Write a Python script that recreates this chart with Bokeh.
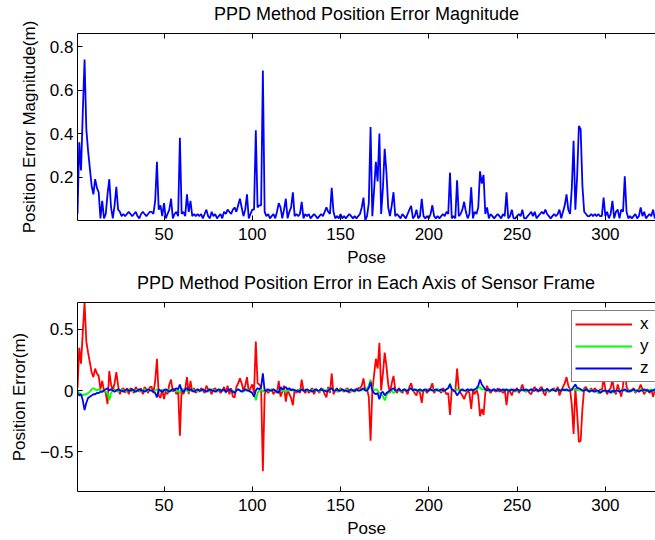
from bokeh.plotting import figure
from bokeh.models import (FixedTicker, LinearAxis, Legend, Range1d)
from bokeh.layouts import column
from bokeh.embed import file_html
from bokeh.resources import INLINE

# ---- data -------------------------------------------------------------
pose = list(range(1, 331))

err_mag = [
    0.03, 0.36, 0.23, 0.50, 0.74, 0.42, 0.32, 0.24, 0.16, 0.12,
    0.19, 0.15, 0.13, 0.01, 0.09, 0.01, 0.03, 0.12, 0.19, 0.06,
    0.01, 0.07, 0.155, 0.05, 0.04, 0.02, 0.03, 0.02, 0.03, 0.04,
    0.03, 0.02, 0.03, 0.04, 0.02, 0.01, 0.03, 0.04, 0.03, 0.02,
    0.03, 0.04, 0.04, 0.03, 0.09, 0.27, 0.05, 0.07, 0.02, 0.08,
    0.01, 0.03, 0.05, 0.10, 0.01, 0.03, 0.04, 0.02, 0.38, 0.03,
    0.04, 0.02, 0.12, 0.04, 0.09, 0.02, 0.03, 0.02, 0.03, 0.02,
    0.03, 0.01, 0.03, 0.05, 0.02, 0.01, 0.04, 0.02, 0.03, 0.01,
    0.02, 0.03, 0.01, 0.04, 0.03, 0.05, 0.04, 0.03, 0.05, 0.06,
    0.04, 0.07, 0.10, 0.06, 0.02, 0.05, 0.12, 0.01, 0.03, 0.05,
    0.05, 0.415, 0.06, 0.07, 0.07, 0.69, 0.04, 0.02, 0.03, 0.01,
    0.02, 0.03, 0.01, 0.04, 0.08, 0.06, 0.01, 0.05, 0.10, 0.01,
    0.04, 0.06, 0.13, 0.02, 0.03, 0.02, 0.03, 0.086, 0.01, 0.03,
    0.02, 0.03, 0.01, 0.02, 0.03, 0.02, 0.01, 0.02, 0.03, 0.02,
    0.04, 0.06, 0.04, 0.03, 0.15, 0.04, 0.01, 0.02, 0.01, 0.03,
    0.01, 0.02, 0.01, 0.02, 0.03, 0.02, 0.01, 0.02, 0.01, 0.02,
    0.03, 0.06, 0.105, 0.00, 0.02, 0.08, 0.43, 0.02, 0.14, 0.27,
    0.18, 0.40, 0.03, 0.15, 0.33, 0.22, 0.06, 0.02, 0.07, 0.13,
    0.02, 0.03, 0.02, 0.01, 0.03, 0.02, 0.01, 0.03, 0.05, 0.067,
    0.01, 0.02, 0.05, 0.01, 0.02, 0.10, 0.02, 0.01, 0.02, 0.01,
    0.03, 0.07, 0.02, 0.01, 0.02, 0.01, 0.02, 0.03, 0.02, 0.04,
    0.03, 0.22, 0.01, 0.02, 0.01, 0.185, 0.02, 0.03, 0.05, 0.086,
    0.04, 0.01, 0.03, 0.153, 0.01, 0.04, 0.03, 0.06, 0.226, 0.17,
    0.21, 0.03, 0.06, 0.01, 0.03, 0.02, 0.01, 0.02, 0.03, 0.02,
    0.01, 0.03, 0.02, 0.13, 0.01, 0.02, 0.05, 0.01, 0.01, 0.02,
    0.03, 0.02, 0.05, 0.01, 0.01, 0.02, 0.03, 0.04, 0.02, 0.04,
    0.01, 0.02, 0.03, 0.04, 0.03, 0.05, 0.03, 0.02, 0.01, 0.02,
    0.03, 0.02, 0.03, 0.05, 0.01, 0.04, 0.07, 0.12, 0.05, 0.03,
    0.15, 0.367, 0.05, 0.20, 0.435, 0.42, 0.16, 0.04, 0.03, 0.02,
    0.02, 0.03, 0.02, 0.03, 0.02, 0.03, 0.02, 0.02, 0.105, 0.02,
    0.04, 0.01, 0.03, 0.09, 0.01, 0.04, 0.05, 0.01, 0.05, 0.04,
    0.203, 0.04, 0.01, 0.02, 0.01, 0.02, 0.03, 0.01, 0.02, 0.06,
    0.02, 0.04, 0.01, 0.02, 0.03, 0.02, 0.05, 0.01, 0.02, 0.03,
]

err_x = [
    0.02, 0.35, 0.22, 0.48, 0.72, 0.40, 0.31, 0.23, 0.15, 0.11,
    0.18, 0.14, 0.12, 0.01, 0.08, 0.00, -0.02, -0.11, 0.16, 0.05,
    0.00, 0.06, 0.15, 0.04, -0.03, 0.01, 0.02, -0.02, 0.02, -0.03,
    0.02, 0.01, -0.02, 0.03, 0.01, -0.01, 0.02, -0.03, 0.03, 0.01,
    -0.02, 0.03, 0.03, -0.02, 0.08, 0.26, -0.04, -0.06, 0.01, -0.07,
    0.00, -0.03, 0.05, 0.09, -0.01, 0.02, -0.03, 0.01, -0.37, 0.02,
    -0.03, 0.01, 0.11, -0.03, 0.08, -0.01, 0.02, -0.02, 0.01, -0.01,
    0.02, 0.00, -0.02, 0.04, 0.01, 0.00, -0.03, 0.01, 0.02, -0.01,
    0.01, -0.02, 0.00, 0.03, -0.02, 0.04, -0.03, 0.02, -0.05, -0.055,
    0.03, 0.06, 0.10, 0.06, 0.00, 0.04, 0.11, -0.01, 0.02, 0.05,
    -0.02, 0.40, 0.06, 0.05, 0.03, -0.66, -0.03, 0.01, -0.02, 0.00,
    0.01, -0.03, 0.00, -0.02, 0.08, -0.05, -0.01, 0.04, -0.09, 0.01,
    -0.03, -0.06, -0.12, 0.01, -0.02, 0.01, -0.02, 0.09, 0.00, -0.02,
    0.01, -0.02, 0.00, 0.02, -0.03, 0.01, 0.00, -0.02, 0.02, 0.01,
    -0.03, -0.055, 0.03, -0.02, 0.14, -0.03, 0.00, 0.02, -0.01, 0.02,
    0.00, -0.01, 0.01, 0.02, -0.02, 0.01, 0.00, -0.01, 0.01, 0.02,
    0.02, 0.04, 0.10, 0.00, 0.01, -0.05, -0.41, 0.00, 0.13, 0.26,
    0.18, 0.39, 0.00, 0.14, 0.31, 0.20, 0.05, -0.02, 0.06, 0.12,
    0.01, -0.02, 0.02, 0.00, -0.02, 0.01, 0.00, -0.03, 0.03, 0.06,
    0.00, -0.02, -0.04, 0.01, -0.02, -0.10, 0.01, 0.00, -0.02, 0.01,
    0.02, 0.06, -0.02, 0.00, 0.01, 0.00, -0.02, 0.02, 0.00, -0.03,
    -0.02, -0.20, 0.01, 0.00, -0.01, 0.18, 0.01, -0.02, -0.04, -0.07,
    -0.03, 0.00, -0.02, -0.15, 0.00, -0.03, 0.01, -0.04, -0.21, -0.15,
    -0.20, -0.02, 0.04, 0.00, -0.02, 0.01, 0.00, -0.01, 0.02, -0.01,
    0.00, -0.02, 0.01, -0.12, 0.00, -0.01, -0.04, 0.01, 0.00, 0.02,
    -0.02, 0.01, 0.05, 0.00, -0.01, 0.01, -0.02, -0.03, 0.01, 0.03,
    0.00, -0.01, 0.02, 0.03, -0.02, -0.04, 0.02, -0.01, 0.00, 0.01,
    0.02, -0.01, 0.03, -0.04, 0.00, 0.03, 0.06, 0.11, 0.04, 0.01,
    -0.12, -0.355, 0.02, -0.18, -0.42, -0.41, -0.15, 0.02, 0.03, 0.00,
    -0.01, 0.02, -0.01, 0.02, 0.00, -0.02, 0.01, 0.00, 0.10, 0.01,
    -0.03, 0.00, 0.02, 0.09, 0.00, -0.03, 0.05, 0.00, -0.05, 0.04,
    0.20, 0.03, 0.00, -0.01, 0.00, 0.02, -0.02, 0.00, 0.01, 0.05,
    0.01, -0.03, 0.00, 0.01, -0.02, 0.01, -0.05, 0.00, 0.01, -0.02,
]

err_y = [
    0.00, -0.02, -0.03, -0.04, -0.03, -0.03, -0.02, -0.01, 0.01, 0.02,
    0.01, 0.00, 0.01, 0.00, 0.00, -0.01, -0.01, -0.02, -0.08, -0.02,
    0.00, 0.01, 0.00, -0.01, 0.00, 0.01, 0.00, -0.01, 0.00, 0.01,
    0.00, -0.01, 0.00, 0.00, 0.01, 0.00, -0.01, 0.00, 0.01, 0.00,
    0.00, 0.01, 0.00, -0.01, 0.00, 0.01, 0.00, -0.01, 0.00, 0.01,
    0.00, -0.01, 0.01, 0.00, 0.00, 0.01, -0.01, 0.00, -0.02, 0.00,
    0.01, 0.00, 0.00, -0.01, 0.00, 0.01, 0.00, 0.00, -0.01, 0.00,
    0.00, 0.01, 0.00, 0.00, -0.01, 0.00, 0.01, 0.00, 0.00, -0.01,
    0.00, 0.01, 0.00, 0.00, -0.01, 0.00, 0.01, 0.00, 0.00, -0.01,
    0.00, 0.01, 0.00, 0.00, -0.01, 0.00, 0.01, 0.00, -0.01, -0.02,
    -0.03, -0.08, -0.02, 0.00, 0.01, -0.01, 0.00, 0.01, 0.00, 0.00,
    0.01, 0.00, 0.00, -0.01, 0.00, 0.01, 0.00, 0.00, -0.01, 0.00,
    0.00, 0.01, 0.00, 0.00, -0.01, 0.00, 0.01, 0.00, 0.00, 0.01,
    0.00, 0.00, -0.01, 0.00, 0.01, 0.00, 0.00, -0.01, 0.00, 0.01,
    0.00, 0.00, 0.01, 0.00, 0.02, 0.00, 0.00, -0.01, 0.00, 0.01,
    0.00, 0.00, 0.01, 0.00, 0.00, -0.01, 0.00, 0.01, 0.00, 0.00,
    0.01, 0.00, 0.01, 0.00, 0.02, 0.04, 0.09, 0.01, 0.00, 0.01,
    0.00, -0.02, -0.03, -0.05, -0.08, -0.04, -0.02, -0.01, 0.00, -0.02,
    -0.01, 0.00, 0.00, -0.01, 0.00, 0.00, 0.01, 0.00, 0.01, 0.02,
    0.00, 0.00, 0.01, 0.00, 0.00, -0.01, 0.00, 0.00, 0.01, 0.00,
    0.00, 0.01, 0.00, 0.00, 0.01, 0.00, 0.00, -0.01, 0.00, 0.01,
    0.02, 0.06, 0.01, 0.00, 0.00, 0.01, 0.00, 0.01, 0.00, 0.00,
    0.00, 0.01, 0.00, 0.00, 0.01, 0.00, 0.01, 0.02, 0.03, 0.01,
    0.01, 0.00, 0.00, 0.01, 0.00, 0.00, 0.01, 0.00, 0.00, 0.01,
    0.00, 0.00, 0.01, 0.00, 0.00, 0.01, 0.00, 0.00, -0.01, 0.00,
    0.00, 0.01, 0.00, 0.00, -0.01, 0.00, 0.00, 0.01, 0.00, 0.00,
    0.01, 0.00, 0.00, 0.00, 0.01, 0.00, 0.00, -0.01, 0.00, 0.00,
    0.01, 0.00, 0.00, 0.01, 0.00, 0.00, 0.01, 0.00, 0.00, 0.01,
    0.00, 0.01, 0.01, 0.00, 0.01, 0.00, 0.00, 0.01, 0.00, 0.00,
    0.01, 0.00, 0.00, -0.01, 0.00, -0.02, -0.01, 0.00, 0.00, -0.01,
    0.00, -0.01, 0.00, -0.02, 0.00, -0.01, 0.00, 0.00, -0.01, 0.00,
    0.00, -0.01, 0.00, 0.00, 0.01, 0.00, -0.01, 0.00, 0.00, 0.01,
    0.00, 0.00, -0.01, 0.00, 0.00, 0.01, 0.00, 0.00, 0.01, 0.00,
]

err_z = [
    -0.02, -0.04, -0.03, -0.08, -0.16, -0.10, -0.06, -0.05, -0.04, -0.03,
    -0.03, -0.02, -0.02, -0.01, -0.01, 0.00, 0.01, 0.02, 0.00, 0.01,
    0.00, -0.01, 0.00, 0.01, 0.00, 0.00, -0.01, 0.00, 0.01, 0.00,
    0.00, 0.01, 0.00, -0.01, 0.00, 0.01, 0.00, 0.00, -0.01, 0.00,
    0.01, 0.00, 0.00, -0.01, -0.02, -0.055, 0.01, 0.00, -0.01, 0.00,
    0.01, 0.00, -0.01, 0.00, 0.01, 0.00, 0.02, 0.01, 0.05, 0.00,
    -0.01, 0.01, 0.02, 0.00, 0.01, 0.00, -0.01, 0.00, 0.01, 0.00,
    0.00, 0.01, 0.00, -0.01, 0.00, 0.01, 0.00, 0.00, -0.01, 0.00,
    0.01, 0.00, 0.00, 0.01, -0.01, 0.00, 0.01, 0.00, -0.01, -0.02,
    0.00, 0.01, 0.00, -0.01, 0.00, 0.01, 0.00, 0.00, -0.01, -0.02,
    -0.05, 0.00, 0.02, 0.01, 0.03, 0.14, 0.00, 0.00, 0.01, 0.00,
    0.00, 0.01, 0.00, -0.01, -0.02, 0.03, 0.01, 0.02, 0.03, 0.01,
    0.02, 0.00, 0.01, 0.00, 0.00, -0.01, 0.00, 0.01, 0.00, 0.00,
    0.01, 0.00, 0.00, -0.01, 0.00, 0.01, 0.00, 0.00, 0.01, 0.00,
    0.00, -0.01, 0.00, 0.01, 0.02, 0.00, 0.00, 0.01, 0.00, 0.00,
    0.01, 0.00, 0.00, -0.01, 0.00, 0.01, 0.00, 0.00, 0.01, 0.00,
    0.00, 0.01, 0.02, 0.00, 0.00, 0.02, 0.07, 0.00, -0.02, -0.03,
    -0.02, -0.07, -0.02, -0.01, -0.04, -0.02, -0.01, 0.00, 0.01, 0.02,
    0.00, 0.00, 0.01, 0.00, 0.00, 0.01, 0.00, 0.00, 0.01, 0.02,
    0.00, 0.01, 0.00, 0.00, 0.01, 0.00, 0.00, 0.01, 0.00, 0.00,
    0.01, 0.00, 0.00, 0.01, 0.00, 0.00, 0.01, 0.00, 0.00, 0.01,
    0.02, 0.05, 0.01, 0.00, -0.01, -0.04, -0.02, 0.00, 0.01, 0.00,
    0.00, 0.01, 0.00, 0.01, 0.00, 0.01, 0.02, 0.04, 0.09, 0.05,
    0.03, 0.01, 0.00, 0.01, 0.00, 0.00, 0.01, 0.00, 0.00, 0.01,
    0.00, 0.01, 0.00, 0.01, 0.00, 0.00, 0.01, 0.00, 0.00, 0.01,
    0.00, 0.00, 0.01, 0.00, 0.01, 0.00, 0.00, 0.01, 0.00, 0.00,
    0.01, 0.00, 0.00, 0.01, 0.00, 0.00, 0.01, 0.00, 0.00, 0.01,
    0.00, 0.00, 0.01, 0.00, 0.00, 0.01, 0.00, 0.01, 0.00, 0.00,
    0.01, 0.03, 0.05, 0.02, 0.02, 0.01, 0.00, 0.00, 0.01, 0.00,
    -0.01, 0.00, 0.00, -0.01, 0.00, 0.00, -0.02, -0.01, 0.00, 0.00,
    -0.01, 0.00, -0.02, 0.00, -0.01, 0.00, 0.00, -0.01, 0.00, 0.00,
    0.01, 0.00, -0.01, 0.00, 0.00, 0.01, 0.00, 0.00, -0.01, 0.00,
    0.00, 0.01, 0.00, 0.00, -0.01, 0.00, 0.00, 0.01, 0.00, 0.00,
]

x_ticks = [50, 100, 150, 200, 250, 300]
mag_ticks = [0.2, 0.4, 0.6, 0.8]
axis_ticks = [-0.5, 0, 0.5]

# ---- styling helpers --------------------------------------------------
FONT = "Liberation Sans"
TICK_SIZE = "17px"
TITLE_SIZE = "18px"


def base_figure(height, y_range, border_bottom):
    p = figure(width=655, height=height, output_backend="svg",
               toolbar_location=None, title_location=None,
               x_range=Range1d(1, 328.4), y_range=y_range,
               min_border_left=77, min_border_right=0,
               min_border_top=33, min_border_bottom=border_bottom)
    p.outline_line_color = None
    p.xgrid.visible = False
    p.ygrid.visible = False
    p.background_fill_color = "white"
    p.border_fill_color = "white"
    return p


def style_axis(ax):
    ax.axis_line_color = "black"
    ax.axis_line_width = 1
    ax.major_tick_line_color = "black"
    ax.major_tick_in = 5
    ax.major_tick_out = 0
    ax.minor_tick_in = 0
    ax.minor_tick_out = 0
    ax.major_label_text_font = FONT
    ax.major_label_text_font_size = TICK_SIZE
    ax.major_label_text_color = "black"
    ax.axis_label_text_font = FONT
    ax.axis_label_text_font_size = TICK_SIZE
    ax.axis_label_text_font_style = "normal"
    ax.axis_label_text_color = "black"


def finish(p, title, ylabel, yticks, yoverrides=None):
    xa = p.xaxis[0]
    style_axis(xa)
    xa.ticker = FixedTicker(ticks=x_ticks)
    xa.axis_label = "Pose"
    xa.major_label_standoff = 7
    xa.axis_label_standoff = 5

    ya = p.yaxis[0]
    style_axis(ya)
    ya.ticker = FixedTicker(ticks=yticks)
    ya.axis_label = ylabel
    ya.major_label_standoff = 4
    ya.axis_label_standoff = 8
    if yoverrides:
        ya.major_label_overrides = yoverrides

    # mirrored top spine with inward ticks and no tick labels; the heading
    # is carried as its axis label so it sits a fixed distance above it
    top = LinearAxis(ticker=FixedTicker(ticks=x_ticks))
    style_axis(top)
    top.major_label_overrides = {t: "" for t in x_ticks}
    top.major_label_text_font_size = "0px"
    top.major_label_standoff = 0
    top.axis_label = title
    top.axis_label_text_font_size = TITLE_SIZE
    top.axis_label_standoff = 10
    p.add_layout(top, "above")


# ---- top: error magnitude --------------------------------------------
p1 = base_figure(269, Range1d(0, 0.86), 47)
p1.line(pose, err_mag, line_color="#0000ff", line_width=1.8)
finish(p1, "PPD Method Position Error Magnitude",
       "Position Error Magnitude(m)", mag_ticks)

# ---- bottom: error per axis ------------------------------------------
p2 = base_figure(271, Range1d(-0.825, 0.72), 49)
rx = p2.line(pose, err_x, line_color="#ff0000", line_width=1.8)
ry = p2.line(pose, err_y, line_color="#00ff00", line_width=1.8)
rz = p2.line(pose, err_z, line_color="#0000ff", line_width=1.8)
finish(p2, "PPD Method Position Error in Each Axis of Sensor Frame",
       "Position Error(m)", axis_ticks,
       {-0.5: "\u22120.5", 0: "0", 0.5: "0.5"})

legend = Legend(items=[("x", [rx]), ("y", [ry]), ("z", [rz])],
                location=(494, 109))
legend.border_line_color = "black"
legend.border_line_width = 1
legend.background_fill_color = "white"
legend.background_fill_alpha = 1.0
legend.label_text_font = FONT
legend.label_text_font_size = TICK_SIZE
legend.label_text_color = "black"
legend.glyph_width = 57
legend.glyph_height = 16
legend.label_height = 16
legend.label_width = 12
legend.label_standoff = 8
legend.padding = 3
legend.spacing = 2
legend.margin = 0
p2.add_layout(legend)

layout = column(p1, p2, spacing=0)

open("out.html", "w").write(file_html(layout, INLINE))
